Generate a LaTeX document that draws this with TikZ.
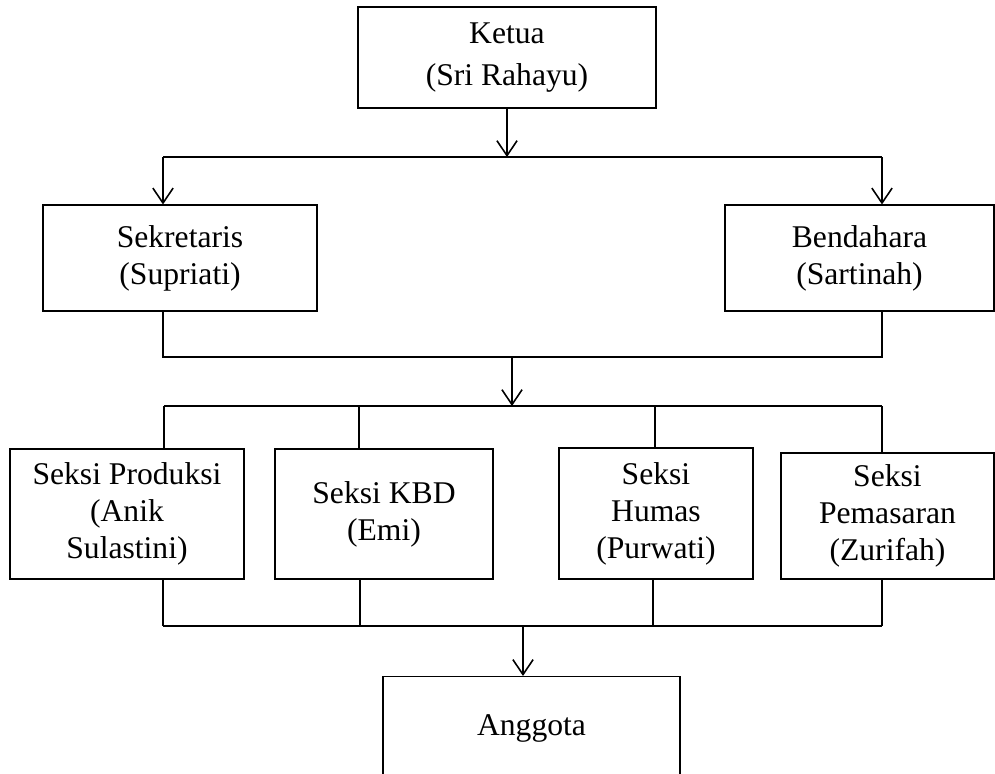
\documentclass[tikz,border=0pt]{standalone}
\usepackage{fontspec}
\setmainfont{Liberation Serif}
\usetikzlibrary{arrows.meta}
\begin{document}
\begin{tikzpicture}[x=0.02cm,y=-0.02cm,
  box/.style args={#1/#2}{draw, line width=0.6pt, inner sep=0pt, align=center,
    minimum width=#1*0.02cm, minimum height=#2*0.02cm,
    font=\fontsize{18}{21}\selectfont},
  link/.style={line width=0.9pt},
  down/.style={link, -{Straight Barb[length=8.5pt,width=11.5pt,line width=0.9pt]}}]
\useasboundingbox (0,0) rectangle (995,774);

% boxes
\node[box=298/101, font=\fontsize{18}{24}\selectfont] (ketua) at (507,57.5) {Ketua\\(Sri Rahayu)};
\node[box=274/106] (sek)   at (180,258)    {Sekretaris\\(Supriati)};
\node[box=269/106] (bend)  at (859.5,258)  {Bendahara\\(Sartinah)};
\node[box=234/130] (prod)  at (127,514)    {Seksi Produksi\\(Anik\\Sulastini)};
\node[box=218/130] (kbd)   at (384,514)    {Seksi KBD\\(Emi)};
\node[box=194/131] (hum)   at (656,513.5)  {Seksi\\Humas\\(Purwati)};
\node[box=213/126] (pem)   at (887.5,516)  {Seksi\\Pemasaran\\(Zurifah)};
\node[box=297/103] (ang)   at (531.5,728)  {Anggota};

% junction points
\coordinate (t1) at (163,157);
\coordinate (t2) at (882,157);
\coordinate (tk) at (507,157);
\coordinate (m1) at (163,357);
\coordinate (m2) at (882,357);
\coordinate (mk) at (512,357);
\coordinate (r1) at (164,406);
\coordinate (r4) at (882,406);
\coordinate (rk) at (512,406);
\coordinate (b1) at (163,626);
\coordinate (b4) at (882,626);
\coordinate (bk) at (523,626);

% Ketua to Sekretaris / Bendahara
\draw[down] (ketua.south -| tk) -- (tk);
\draw[link] (t1) -- (t2);
\draw[down] (t1) -- (t1 |- sek.north);
\draw[down] (t2) -- (t2 |- bend.north);

% Sekretaris / Bendahara to the sections
\draw[link] (sek.south -| m1) -- (m1) -- (m2) -- (bend.south -| m2);
\draw[down] (mk) -- (rk);
\draw[link] (r1) -- (r4);
\draw[link] (r1) -- (r1 |- prod.north);
\draw[link] (359,406) -- (359,0 |- kbd.north);
\draw[link] (655,406) -- (655,0 |- hum.north);
\draw[link] (r4) -- (r4 |- pem.north);

% sections to Anggota
\draw[link] (prod.south -| b1) -- (b1);
\draw[link] (kbd.south -| 360,0) -- (360,626);
\draw[link] (hum.south -| 653,0) -- (653,626);
\draw[link] (pem.south -| b4) -- (b4);
\draw[link] (b1) -- (b4);
\draw[down] (bk) -- (bk |- ang.north);
\end{tikzpicture}
\end{document}
